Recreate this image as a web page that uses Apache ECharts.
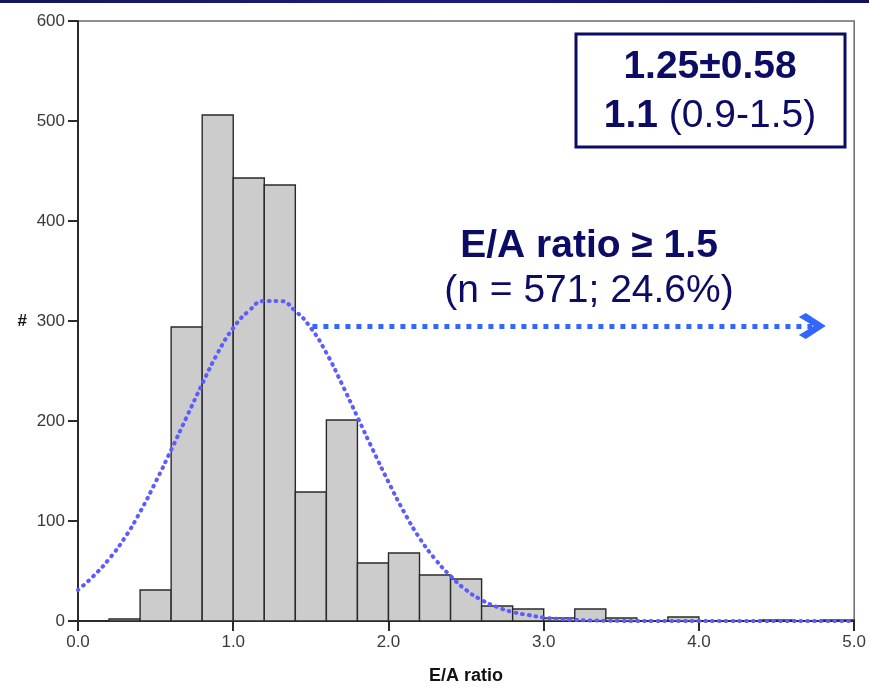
<!DOCTYPE html>
<html><head><meta charset="utf-8">
<script src="https://cdn.jsdelivr.net/npm/echarts@6/dist/echarts.min.js"></script>
<style>html,body{margin:0;padding:0;background:#fff}#c{width:869px;height:691px}</style>
</head><body><div id="c"></div>
<script>
// ---- data ----
const binEdges = [0.2,0.4,0.6,0.8,1.0,1.2,1.4,1.6,1.8,2.0,2.2,2.4,2.6,2.8,3.0,3.2,3.4,3.6,3.8,4.0,4.2,4.4,4.6,4.8,5.0];
const counts   = [2,31,294,506,443,436,129,201,58,68,46,42,15,12,3,12,3,0,4,0,0,1,0,1];
const curveX = [0.0,0.1,0.2,0.3,0.4,0.5,0.6,0.7,0.8,0.9,1.0,1.1,1.2,1.3,1.4,1.5,1.6,1.7,1.8,1.9,2.0,2.1,2.2,2.3,2.4,2.5,2.6,2.7,2.8,2.9,3.0,3.1,3.2,3.3,3.4,3.5,3.6,3.7,3.8,3.9,4.0,4.1,4.2,4.3,4.4,4.5,4.6,4.7,4.8,4.9,5.0];
const curveY = [31,45,62,83,109,139,171,204,237,268,293,310,320,320,310,293,268,237,204,171,139,109,83,62,45,31,21,14,9,6,3.5,2,1.1,0.6,0.3,0.1,0,0,0,0,0,0,0,0,0,0,0,0,0,0,0];
const arrowFrom = [1.51, 295];
const arrowTo   = [4.73, 295];
const xName = 'E/A ratio';
const yName = '#';
const statLine1 = '1.25±0.58';
const statLine2Bold = '1.1';
const statLine2 = '(0.9-1.5)';
const noteTitle = 'E/A ratio ≥ 1.5';
const noteSub = '(n = 571; 24.6%)';

const binData = counts.map((c, i) => [binEdges[i], binEdges[i + 1], c]);
const curveData = curveX.map((x, i) => [x, curveY[i]]);

const FONT = '"Liberation Sans", Arial, sans-serif';
const NAVY = '#0c0c66';

const chart = echarts.init(document.getElementById('c'), null, {renderer: 'canvas'});
chart.setOption({
  animation: false,
  backgroundColor: '#ffffff',
  grid: {left: 78, right: 12, top: 21, bottom: 70, show: true, borderColor: '#6a6a6a', borderWidth: 1.5, backgroundColor: 'transparent'},
  xAxis: {
    type: 'value', min: 0, max: 5, interval: 1,
    name: xName, nameLocation: 'middle', nameGap: 46,
    nameTextStyle: {fontFamily: FONT, fontWeight: 'bold', fontSize: 18, color: '#111'},
    axisLine: {show: true, onZero: false, lineStyle: {color: '#2a2a2a', width: 2}},
    axisTick: {show: true, length: 10, lineStyle: {color: '#2a2a2a', width: 2}},
    axisLabel: {margin: 13, fontFamily: FONT, fontSize: 17, color: '#3a3a3a', formatter: v => v.toFixed(1)},
    splitLine: {show: false}
  },
  yAxis: {
    type: 'value', min: 0, max: 600, interval: 100,
    name: yName, nameLocation: 'middle', nameRotate: 0, nameGap: 51,
    nameTextStyle: {fontFamily: FONT, fontWeight: 'bold', fontSize: 17, color: '#111'},
    axisLine: {show: true, lineStyle: {color: '#2a2a2a', width: 2}},
    axisTick: {show: true, length: 10, lineStyle: {color: '#2a2a2a', width: 2}},
    axisLabel: {margin: 13, fontFamily: FONT, fontSize: 17, color: '#3a3a3a'},
    splitLine: {show: false}
  },
  series: [
    {
      type: 'custom',
      data: binData,
      encode: {x: [0, 1], y: 2},
      z: 2,
      renderItem: function (params, api) {
        const v = api.value(2);
        if (!v) return null;
        const p0 = api.coord([api.value(0), v]);
        const p1 = api.coord([api.value(1), 0]);
        return {
          type: 'rect',
          shape: {x: p0[0], y: p0[1], width: p1[0] - p0[0], height: p1[1] - p0[1]},
          style: {fill: '#cccccc', stroke: '#2a2a2a', lineWidth: 1.4}
        };
      }
    },
    {
      type: 'line',
      data: curveData,
      smooth: true,
      showSymbol: false,
      z: 3,
      lineStyle: {color: '#5c5cff', width: 4, type: [0.8, 6], cap: 'round'},
      markLine: {
        silent: true,
        symbol: ['none', 'path://M13,0 L26,20 L22,27 L13,12 L4,27 L0,20 Z'],
        symbolSize: [26, 27],
        label: {show: false},
        itemStyle: {color: '#3366ff'},
        lineStyle: {color: '#3366ff', width: 5, type: [5, 6], cap: 'butt'},
        data: [[{coord: arrowFrom}, {coord: arrowTo}]]
      }
    }
  ],
  graphic: [
    {
      type: 'rect', left: 0, top: 0, z: 10,
      shape: {width: 869, height: 3},
      style: {fill: new echarts.graphic.LinearGradient(0, 0, 1, 0, [
        {offset: 0, color: '#15155a'}, {offset: 0.5, color: '#1c1c80'}, {offset: 1, color: '#101060'}
      ])}
    },
    {
      type: 'rect', z: 10,
      shape: {x: 576, y: 34, width: 269, height: 113},
      style: {fill: '#ffffff', stroke: NAVY, lineWidth: 3}
    },
    {
      type: 'text', z: 11,
      x: 710, y: 67,
      style: {text: statLine1, font: 'bold 39px ' + FONT, fill: NAVY, align: 'center', verticalAlign: 'middle'}
    },
    {
      type: 'text', z: 11,
      x: 710, y: 116,
      style: {
        text: '{b|' + statLine2Bold + '} {n|' + statLine2 + '}',
        align: 'center', verticalAlign: 'middle',
        rich: {
          b: {fontFamily: FONT, fontWeight: 'bold', fontSize: 39, fill: NAVY, color: NAVY},
          n: {fontFamily: FONT, fontWeight: 'normal', fontSize: 39, fill: NAVY, color: NAVY}
        },
        fontFamily: FONT, fontSize: 39, fill: NAVY
      }
    },
    {
      type: 'text', z: 11,
      x: 589, y: 246,
      style: {text: noteTitle, font: 'bold 39px ' + FONT, fill: NAVY, align: 'center', verticalAlign: 'middle'}
    },
    {
      type: 'text', z: 11,
      x: 589, y: 291,
      style: {text: noteSub, font: '39px ' + FONT, fill: NAVY, align: 'center', verticalAlign: 'middle'}
    }
  ]
});
</script>
</body></html>
